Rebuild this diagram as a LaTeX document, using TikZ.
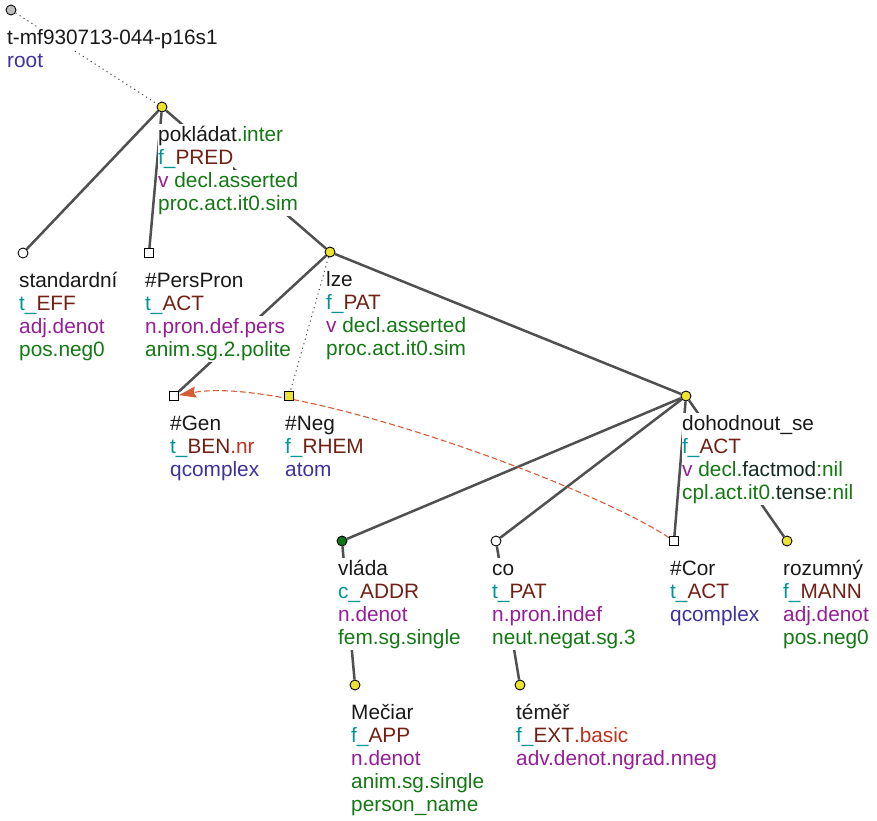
\documentclass[tikz,border=0pt]{standalone}
\usepackage{fontspec}
\setmainfont{Liberation Sans}
\usepackage{xcolor}
\usetikzlibrary{arrows.meta,backgrounds}
\definecolor{treeyellow}{RGB}{236,226,50}
\definecolor{treegreen}{RGB}{10,120,20}
\definecolor{treegray}{RGB}{190,190,190}
\definecolor{edgegray}{RGB}{80,80,80}
\definecolor{corefred}{RGB}{214,92,56}
\definecolor{tfacol}{RGB}{0,150,150}
\definecolor{funcol}{RGB}{112,32,20}
\definecolor{subcol}{RGB}{190,50,30}
\definecolor{semcol}{RGB}{150,30,150}
\definecolor{gramcol}{RGB}{20,120,20}
\definecolor{typecol}{RGB}{60,50,160}
\definecolor{darkcol}{RGB}{20,45,35}
\definecolor{lemcol}{RGB}{25,25,25}
\setlength{\fboxsep}{0pt}
% one text line of a label, white behind it
\newcommand{\lline}[1]{\colorbox{white}{\rule[-6pt]{0pt}{23pt}#1}}
\newcommand{\tfun}[2]{\textcolor{tfacol}{#1\_}\textcolor{funcol}{#2}}
\newcommand{\tgram}[1]{\textcolor{gramcol}{#1}}
\newcommand{\tsem}[1]{\textcolor{semcol}{#1}}
\newcommand{\ttype}[1]{\textcolor{typecol}{#1}}
\newcommand{\tdark}[1]{\textcolor{darkcol}{#1}}
\newcommand{\tsub}[1]{\textcolor{subcol}{#1}}
\begin{document}
\begin{tikzpicture}[x=1pt,y=-1pt,
  ybul/.style={circle,draw=black,fill=treeyellow,line width=0.9pt,inner sep=0pt,minimum size=10pt},
  wbul/.style={ybul,fill=white},
  gbul/.style={ybul,fill=treegreen},
  rbul/.style={ybul,fill=treegray},
  wsq/.style={rectangle,draw=black,fill=white,line width=0.9pt,inner sep=0pt,minimum size=9pt},
  ysq/.style={wsq,fill=treeyellow},
  tedge/.style={draw=edgegray,line width=2.5pt},
  auxedge/.style={draw=edgegray,line width=1pt,dash pattern=on 1.2pt off 3.5pt},
  coref/.style={draw=corefred,line width=1.1pt,dash pattern=on 6pt off 3pt,-{Stealth[length=17pt,width=11pt,inset=2pt]}},
  lbl/.style={anchor=north west,inner sep=0pt,align=left,text=lemcol,font=\fontsize{20.8}{23}\selectfont}]
\useasboundingbox (0,0) rectangle (877,820);
% tree nodes
\node[rbul] (root) at (11,10) {};
\node[ybul] (poklad) at (162,107) {};
\node[wbul] (stand) at (23,253) {};
\node[wsq] (pers) at (149,253) {};
\node[ybul] (lze) at (330,252) {};
\node[wsq] (gen) at (174,396) {};
\node[ysq] (neg) at (289,396) {};
\node[ybul] (dohod) at (686,396) {};
\node[gbul] (vlada) at (342,541) {};
\node[wbul] (co) at (496,541) {};
\node[wsq] (cor) at (674,541) {};
\node[ybul] (rozum) at (787,541) {};
\node[ybul] (meciar) at (355,685) {};
\node[ybul] (temer) at (520,685) {};
% edges behind everything
\begin{scope}[on background layer]
\foreach \u/\v in {poklad/stand,poklad/pers,poklad/lze,lze/gen,lze/dohod,dohod/vlada,dohod/co,dohod/cor,dohod/rozum,vlada/meciar,co/temer}
  \draw[tedge] (\u)--(\v);
\foreach \u/\v in {root/poklad,lze/neg} \draw[auxedge] (\u)--(\v);
\draw[coref] (cor) .. controls (590,485) and (290,375) .. (gen);
\end{scope}
% labels
\node[lbl] (root-l) at ([shift={(-4,17)}]root) {\lline{t-mf930713-044-p16s1}\\ \lline{\ttype{root}}};
\node[lbl] (poklad-l) at ([shift={(-4,17)}]poklad) {\lline{pokládat\tgram{.inter}}\\ \lline{\tfun{f}{PRED}}\\ \lline{\tsem{v} \tgram{decl.asserted}}\\ \lline{\tgram{proc.act.it0.sim}}};
\node[lbl] (stand-l) at ([shift={(-4,17)}]stand) {\lline{standardní}\\ \lline{\tfun{t}{EFF}}\\ \lline{\tsem{adj.denot}}\\ \lline{\tgram{pos.neg0}}};
\node[lbl] (pers-l) at ([shift={(-4,17)}]pers) {\lline{\#PersPron}\\ \lline{\tfun{t}{ACT}}\\ \lline{\tsem{n.pron.def.pers}}\\ \lline{\tgram{anim.sg.2.polite}}};
\node[lbl] (lze-l) at ([shift={(-4,17)}]lze) {\lline{lze}\\ \lline{\tfun{f}{PAT}}\\ \lline{\tsem{v} \tgram{decl.asserted}}\\ \lline{\tgram{proc.act.it0.sim}}};
\node[lbl] (gen-l) at ([shift={(-4,17)}]gen) {\lline{\#Gen}\\ \lline{\tfun{t}{BEN}\tsub{.nr}}\\ \lline{\ttype{qcomplex}}};
\node[lbl] (neg-l) at ([shift={(-4,17)}]neg) {\lline{\#Neg}\\ \lline{\tfun{f}{RHEM}}\\ \lline{\ttype{atom}}};
\node[lbl] (dohod-l) at ([shift={(-4,17)}]dohod) {\lline{dohodnout\_se}\\ \lline{\tfun{f}{ACT}}\\ \lline{\tsem{v} \tgram{decl.}\tdark{factmod}\tgram{:nil}}\\ \lline{\tgram{cpl.act.it0.}\tdark{tense}\tgram{:nil}}};
\node[lbl] (vlada-l) at ([shift={(-4,17)}]vlada) {\lline{vláda}\\ \lline{\tfun{c}{ADDR}}\\ \lline{\tsem{n.denot}}\\ \lline{\tgram{fem.sg.single}}};
\node[lbl] (co-l) at ([shift={(-4,17)}]co) {\lline{co}\\ \lline{\tfun{t}{PAT}}\\ \lline{\tsem{n.pron.indef}}\\ \lline{\tgram{neut.negat.sg.3}}};
\node[lbl] (cor-l) at ([shift={(-4,17)}]cor) {\lline{\#Cor}\\ \lline{\tfun{t}{ACT}}\\ \lline{\ttype{qcomplex}}};
\node[lbl] (rozum-l) at ([shift={(-4,17)}]rozum) {\lline{rozumný}\\ \lline{\tfun{f}{MANN}}\\ \lline{\tsem{adj.denot}}\\ \lline{\tgram{pos.neg0}}};
\node[lbl] (meciar-l) at ([shift={(-4,17)}]meciar) {\lline{Mečiar}\\ \lline{\tfun{f}{APP}}\\ \lline{\tsem{n.denot}}\\ \lline{\tgram{anim.sg.single}}\\ \lline{\tgram{person\_name}}};
\node[lbl] (temer-l) at ([shift={(-4,17)}]temer) {\lline{téměř}\\ \lline{\tfun{f}{EXT}\tsub{.basic}}\\ \lline{\tsem{adv.denot.ngrad.nneg}}};
\end{tikzpicture}
\end{document}
